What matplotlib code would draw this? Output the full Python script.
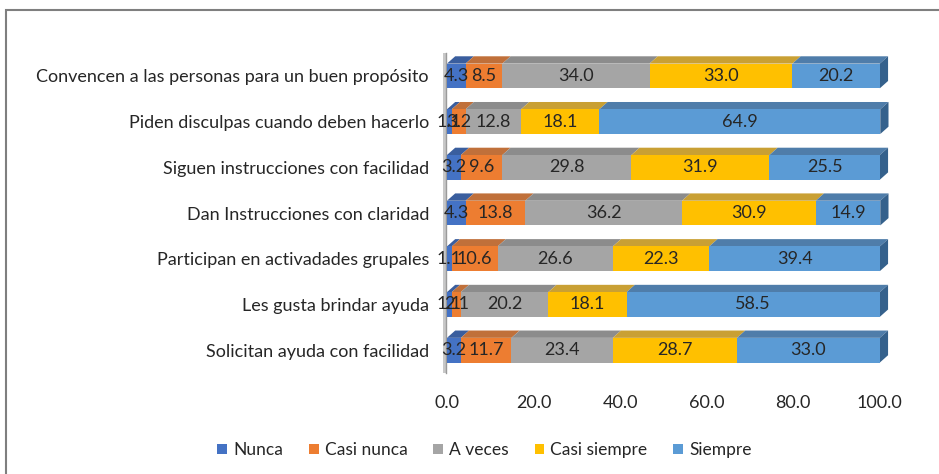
import numpy as np
import matplotlib.pyplot as plt
from matplotlib.patches import Polygon, Rectangle

plt.rcParams['font.family'] = ['Lato', 'DejaVu Sans']

categories = ['Convencen a las personas para un buen propósito',
              'Piden disculpas cuando deben hacerlo',
              'Siguen instrucciones con facilidad',
              'Dan Instrucciones con claridad',
              'Participan en activadades grupales',
              'Les gusta brindar ayuda',
              'Solicitan ayuda con facilidad']
series = ['Nunca', 'Casi nunca', 'A veces', 'Casi siempre', 'Siempre']
nunca = [4.3, 1.1, 3.2, 4.3, 1.1, 1.1, 3.2]
casi_nunca = [8.5, 3.2, 9.6, 13.8, 10.6, 2.1, 11.7]
a_veces = [34.0, 12.8, 29.8, 36.2, 26.6, 20.2, 23.4]
casi_siempre = [33.0, 18.1, 31.9, 30.9, 22.3, 18.1, 28.7]
siempre = [20.2, 64.9, 25.5, 14.9, 39.4, 58.5, 33.0]
xticks = [0, 20, 40, 60, 80, 100]

front = ['#4472C4', '#ED7D31', '#A5A5A5', '#FFC000', '#5B9BD5']
top = ['#3A5E9E', '#C0703A', '#8C8C8C', '#C9A034', '#4F7DAA']
side = '#35618C'

data = np.array([nunca, casi_nunca, a_veces, casi_siempre, siempre])
n = len(categories)
ypos = np.arange(n)[::-1]  # first category at top
h = 0.27    # half bar height
dx = 1.9    # depth offset in x (data units)
dy = 0.16   # depth offset in y (data units)

fig = plt.figure(figsize=(9.39, 4.74), dpi=100)
ax = fig.add_axes([0.476, 0.213, 0.461, 0.675])

# outer chart frame
fig.patches.append(Rectangle((0.006, -0.1), 1.2, 1.079, transform=fig.transFigure,
                             fill=False, edgecolor='#7f7f7f', lw=1.5))

left = np.zeros(n)
for k in range(len(series)):
    vals = data[k]
    ax.barh(ypos, vals, left=left, height=2 * h, color=front[k], label=series[k],
            edgecolor='none', zorder=3)
    for i in range(n):
        l, w, c = left[i], vals[i], ypos[i]
        ax.add_patch(Polygon([(l, c + h), (l + w, c + h), (l + w + dx, c + h + dy),
                              (l + dx, c + h + dy)], closed=True, color=top[k], lw=0,
                             zorder=2, clip_on=False))
        ax.text(l + w / 2, c, f'{w:.1f}', ha='center', va='center', fontsize=13,
                color='#262626', zorder=5)
    left = left + vals

# right side faces
for i in range(n):
    c = ypos[i]
    r = left[i]
    ax.add_patch(Polygon([(r, c - h), (r, c + h), (r + dx, c + h + dy), (r + dx, c - h + dy)],
                         closed=True, color=side, lw=0, zorder=2, clip_on=False))

# left wall
ax.add_patch(Rectangle((-1.0, -0.5), 1.0, n, color='#c8c8c8', lw=0, zorder=1, clip_on=False))
ax.plot([-0.2, -0.2], [-0.5, n - 0.5], color='#9a9a9a', lw=1, zorder=1, clip_on=False)

ax.set_xlim(0, 100)
ax.set_ylim(-0.5, n - 0.5)
ax.set_yticks(ypos)
ax.set_yticklabels(categories, fontsize=13, color='#262626')
ax.set_xticks(xticks)
ax.set_xticklabels([f'{t:.1f}' for t in xticks], fontsize=13, color='#262626')
ax.tick_params(length=0)
ax.tick_params(axis='y', pad=13)
ax.tick_params(axis='x', pad=16)
for s in ax.spines.values():
    s.set_visible(False)

fig.legend(loc='center', bbox_to_anchor=(0.516, 0.05), ncol=5, frameon=False,
           fontsize=12.5, handlelength=0.55, handleheight=0.55, handletextpad=0.35,
           columnspacing=1.5, labelcolor='#262626')

fig.savefig('out.png', dpi=100)
